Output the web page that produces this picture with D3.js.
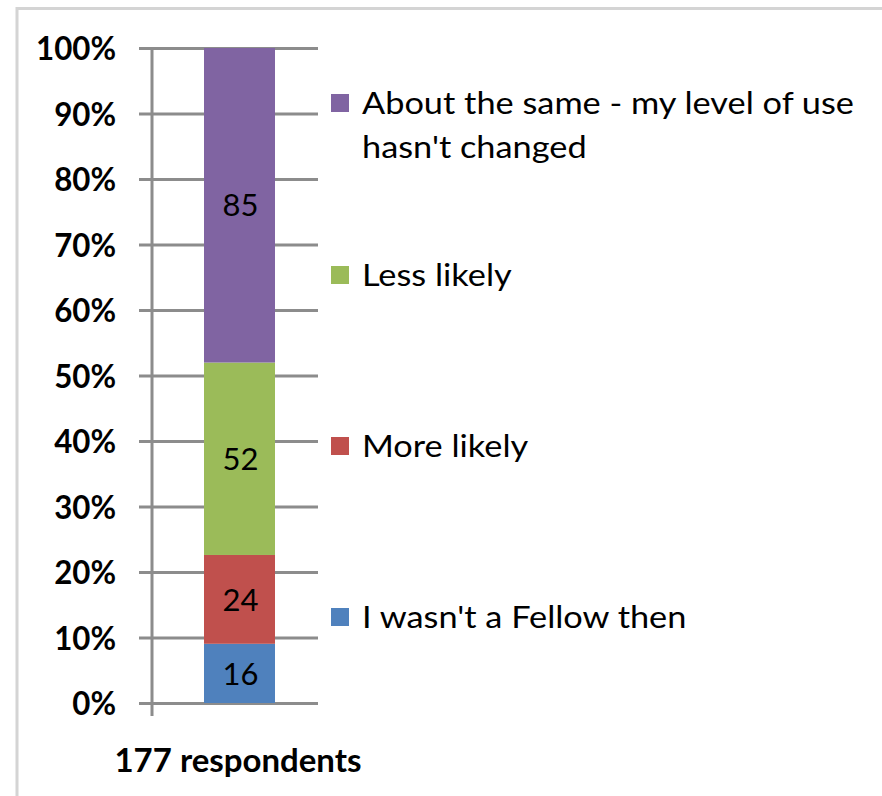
<!DOCTYPE html>
<html><head><meta charset="utf-8">
<script src="https://cdn.jsdelivr.net/npm/d3@7"></script>
<style>html,body{margin:0;padding:0;background:#fff;}svg{display:block;}</style>
</head><body>
<svg id="c" width="882" height="796"></svg>
<script>
const categories = ["I wasn't a Fellow then", "More likely", "Less likely", "About the same - my level of use hasn't changed"];
const legendLines = [["I wasn't a Fellow then"], ["More likely"], ["Less likely"], ["About the same - my level of use", "hasn't changed"]];
const values = [16, 24, 52, 85];
const colors = ["#4F81BD", "#C0504D", "#9BBB59", "#8064A2"];
const tickValues = [0, 0.1, 0.2, 0.3, 0.4, 0.5, 0.6, 0.7, 0.8, 0.9, 1.0];
const xLabel = "177 respondents";

const svg = d3.select("#c");
const FONT = "Lato, 'Open Sans', sans-serif";

// frame (left & top edges visible)
svg.append("path").attr("d", "M17,800 L17,8.5 L890,8.5").attr("fill", "none")
  .attr("stroke", "#d4d4d4").attr("stroke-width", 3);

const y = d3.scaleLinear().domain([0, 1]).range([703, 48]);

// gridlines
svg.append("g").attr("transform", "translate(139,0)")
  .call(d3.axisRight(y).tickValues(tickValues).tickSize(179).tickFormat(""))
  .call(g => g.select(".domain").remove())
  .call(g => g.selectAll("line").attr("stroke", "#8c8c8c").attr("stroke-width", 3));

// y axis line
svg.append("line").attr("x1", 152).attr("x2", 152).attr("y1", y(1)).attr("y2", y(0) + 13)
  .attr("stroke", "#8c8c8c").attr("stroke-width", 3);

// tick labels
const yAx = svg.append("g").attr("transform", "translate(116,0)")
  .call(d3.axisLeft(y).tickValues(tickValues).tickSize(0).tickPadding(0).tickFormat(d3.format(".0%")));
yAx.select(".domain").remove();
yAx.selectAll("text").attr("font-family", FONT).attr("font-weight", "bold")
  .attr("font-size", 33).attr("fill", "#000").attr("dy", "0.36em");

// stacked bar
const total = d3.sum(values);
const cum = d3.cumsum(values);
const segs = values.map((v, i) => ({v, c: colors[i], y0: (cum[i] - v) / total, y1: cum[i] / total}));
const bx = 204, bw = 71;
svg.append("g").selectAll("rect").data(segs).join("rect")
  .attr("x", bx).attr("width", bw)
  .attr("y", d => y(d.y1)).attr("height", d => y(d.y0) - y(d.y1))
  .attr("fill", d => d.c);
svg.append("g").selectAll("text").data(segs).join("text")
  .attr("x", bx + bw / 2 + 1).attr("y", d => y((d.y0 + d.y1) / 2)).attr("dy", "0.36em")
  .attr("text-anchor", "middle").attr("font-family", FONT).attr("font-size", 31)
  .attr("fill", "#000").text(d => d.v);

// x label
const xl = svg.append("text").attr("x", 238).attr("y", 772).attr("text-anchor", "middle")
  .attr("font-family", FONT).attr("font-weight", "bold").attr("font-size", 33).attr("fill", "#000").text(xLabel);

// legend (top to bottom: reversed order)
const legendY = [617, 446, 275, 103];
const lg = svg.append("g");
categories.forEach((c, i) => {
  const g = lg.append("g");
  g.append("rect").attr("x", 331).attr("y", legendY[i] - 9).attr("width", 18).attr("height", 18).attr("fill", colors[i]);
  legendLines[i].forEach((t, j) => {
    g.append("text").attr("x", 362).attr("y", legendY[i] + j * 44).attr("dy", "0.36em")
      .attr("font-family", FONT).attr("font-size", 31).attr("fill", "#000").text(t);
  });
});

// compress text horizontally to the narrower reference widths
function squeeze(sel, factor) {
  sel.each(function() {
    const w = this.getComputedTextLength();
    d3.select(this).attr("textLength", w * factor).attr("lengthAdjust", "spacingAndGlyphs");
  });
}
const w100 = yAx.selectAll("text").filter(function(){ return this.textContent === "100%"; }).node().getComputedTextLength();
squeeze(yAx.selectAll("text"), 80 / w100);
squeeze(xl, 247 / xl.node().getComputedTextLength());
const wLeg = lg.selectAll("text").filter(function(){ return this.textContent === legendLines[3][0]; }).node().getComputedTextLength();
squeeze(lg.selectAll("text"), 492 / wLeg);
</script>
</body></html>
